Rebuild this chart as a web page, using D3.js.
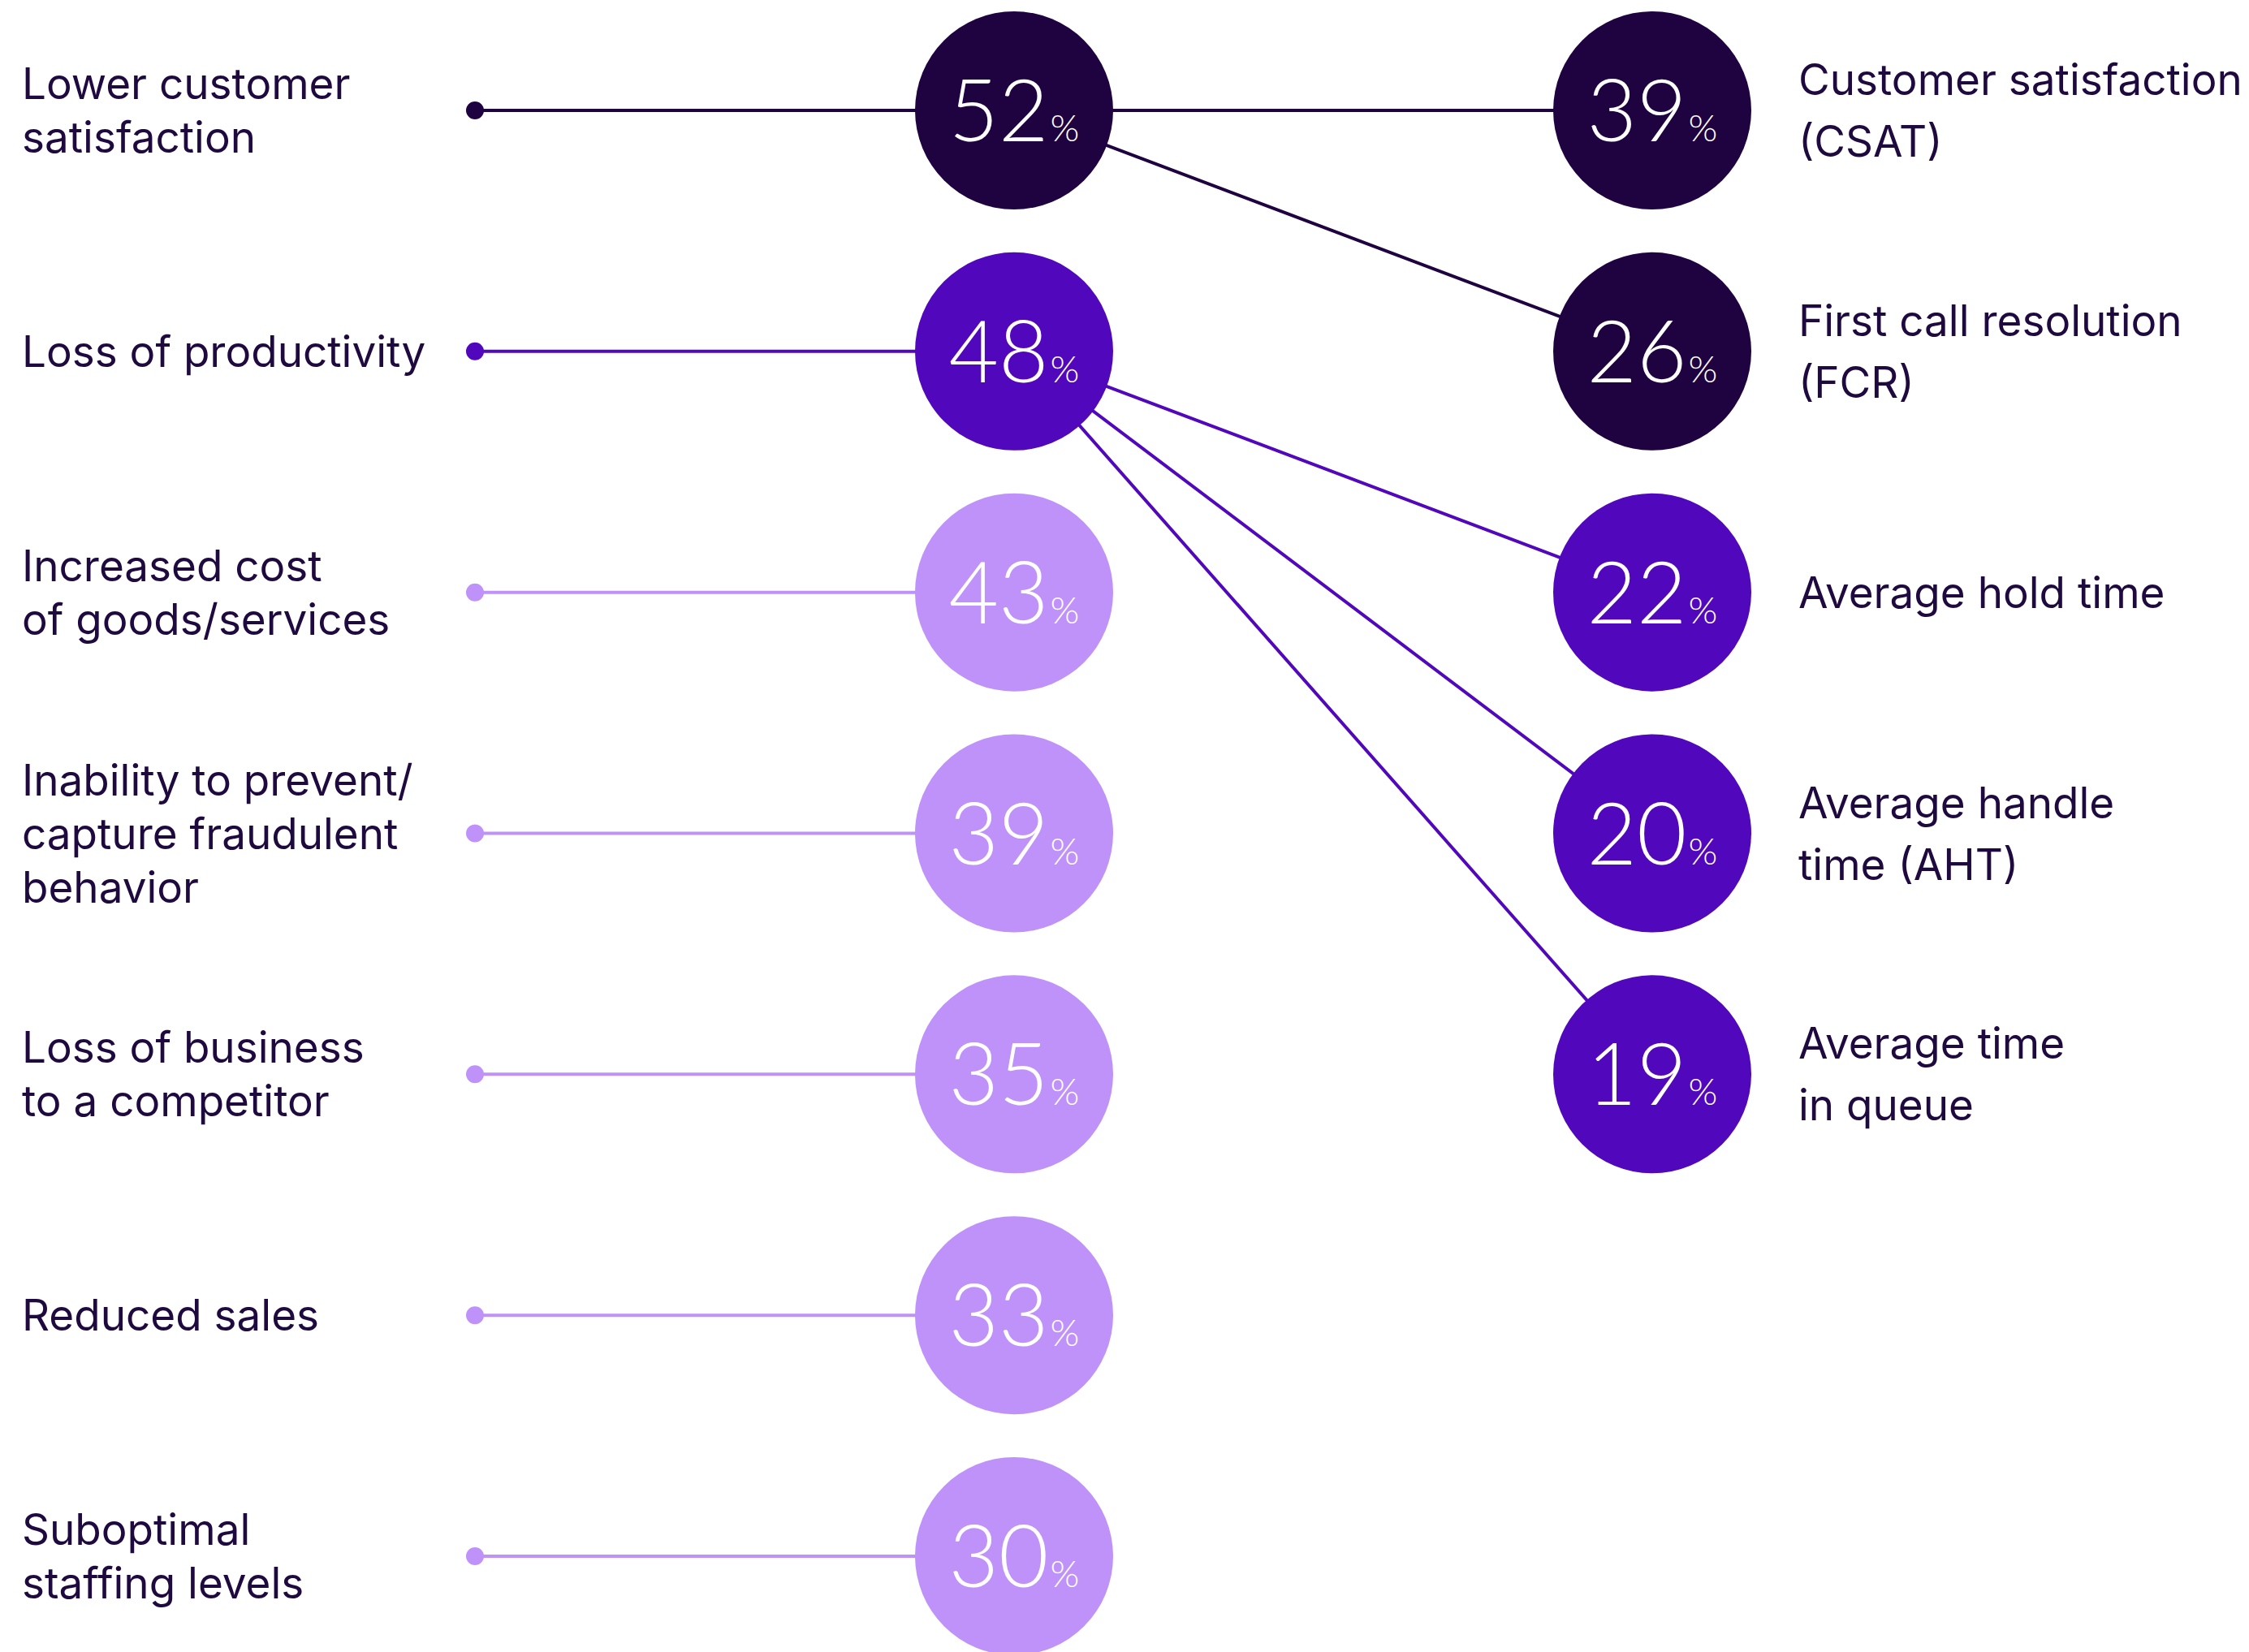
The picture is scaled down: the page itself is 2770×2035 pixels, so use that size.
<!DOCTYPE html>
<html>
<head>
<meta charset="utf-8">
<script src="https://cdn.jsdelivr.net/npm/d3@7"></script>
<style>
  body { margin: 0; background: #ffffff; }
  svg { display: block; }
</style>
</head>
<body>
<svg id="chart"></svg>
<script>
// left column: consequences
var leftLabels = [
  ["Lower customer", "satisfaction"],
  ["Loss of productivity"],
  ["Increased cost", "of goods/services"],
  ["Inability to prevent/", "capture fraudulent", "behavior"],
  ["Loss of business", "to a competitor"],
  ["Reduced sales"],
  ["Suboptimal", "staffing levels"]
];
var leftValues = [52, 48, 43, 39, 35, 33, 30];
var leftTone = ["dark", "mid", "light", "light", "light", "light", "light"];

// right column: metrics, each linked to a left item
var rightLabels = [
  ["Customer satisfaction", "(CSAT)"],
  ["First call resolution", "(FCR)"],
  ["Average hold time"],
  ["Average handle", "time (AHT)"],
  ["Average time", "in queue"]
];
var rightValues = [39, 26, 22, 20, 19];
var rightParent = [0, 0, 1, 1, 1];

var width = 2770, height = 2035;
var color = d3.scaleOrdinal()
  .domain(["dark", "mid", "light"])
  .range(["#1f0340", "#5107bb", "#bf92f9"]);
var textColor = "#1f0a40";

var svg = d3.select("#chart")
  .attr("width", width)
  .attr("height", height);

// row positions
var y = d3.scalePoint()
  .domain(d3.range(leftValues.length))
  .range([136, 1917]);

// column positions
var x = d3.scaleOrdinal()
  .domain(["label", "dot", "left", "right", "rlabel"])
  .range([27, 585, 1249, 2035, 2215]);

var r = 122;

// links between left and right circles
svg.append("g").selectAll("line")
  .data(rightValues)
  .join("line")
  .attr("x1", x("left"))
  .attr("y1", function(d, i) { return y(rightParent[i]); })
  .attr("x2", x("right"))
  .attr("y2", function(d, i) { return y(i); })
  .attr("stroke", function(d, i) { return color(leftTone[rightParent[i]]); })
  .attr("stroke-width", 4);

// stems from dot to left circle
var stems = svg.append("g").selectAll("g")
  .data(leftValues)
  .join("g");
stems.append("line")
  .attr("x1", x("dot"))
  .attr("x2", x("left"))
  .attr("y1", function(d, i) { return y(i); })
  .attr("y2", function(d, i) { return y(i); })
  .attr("stroke", function(d, i) { return color(leftTone[i]); })
  .attr("stroke-width", 4);
stems.append("circle")
  .attr("cx", x("dot"))
  .attr("cy", function(d, i) { return y(i); })
  .attr("r", 11)
  .attr("fill", function(d, i) { return color(leftTone[i]); });

function bubble(sel, cx, tone) {
  sel.append("circle")
    .attr("cx", cx)
    .attr("cy", function(d, i) { return y(i); })
    .attr("r", r)
    .attr("fill", tone);
  var t = sel.append("text")
    .attr("x", cx)
    .attr("y", function(d, i) { return y(i) + 38; })
    .attr("text-anchor", "middle")
    .attr("fill", "#ffffff")
    .attr("font-family", "Lato, sans-serif")
    .attr("font-weight", 300);
  t.append("tspan")
    .attr("font-size", 106)
    .text(function(d) { return d; });
  t.append("tspan")
    .attr("font-size", 46)
    .attr("dx", 2)
    .text("%");
}

var leftB = svg.append("g").selectAll("g")
  .data(leftValues)
  .join("g");
bubble(leftB, x("left"), function(d, i) { return color(leftTone[i]); });

var rightB = svg.append("g").selectAll("g")
  .data(rightValues)
  .join("g");
bubble(rightB, x("right"), function(d, i) { return color(leftTone[rightParent[i]]); });

function labels(data, lx, lh, size) {
  svg.append("g").selectAll("text")
    .data(data)
    .join("text")
    .attr("x", lx)
    .attr("fill", textColor)
    .attr("font-family", "Inter, sans-serif")
    .attr("font-size", size)
    .each(function(lines, i) {
      var top = y(i) - (lines.length - 1) * lh / 2 + size * 0.36;
      d3.select(this).selectAll("tspan")
        .data(lines)
        .join("tspan")
        .attr("x", lx)
        .attr("y", function(d, j) { return top + j * lh; })
        .text(function(d) { return d; });
    });
}
labels(leftLabels, x("label"), 66, 53);
labels(rightLabels, x("rlabel"), 76, 53);
</script>
</body>
</html>
